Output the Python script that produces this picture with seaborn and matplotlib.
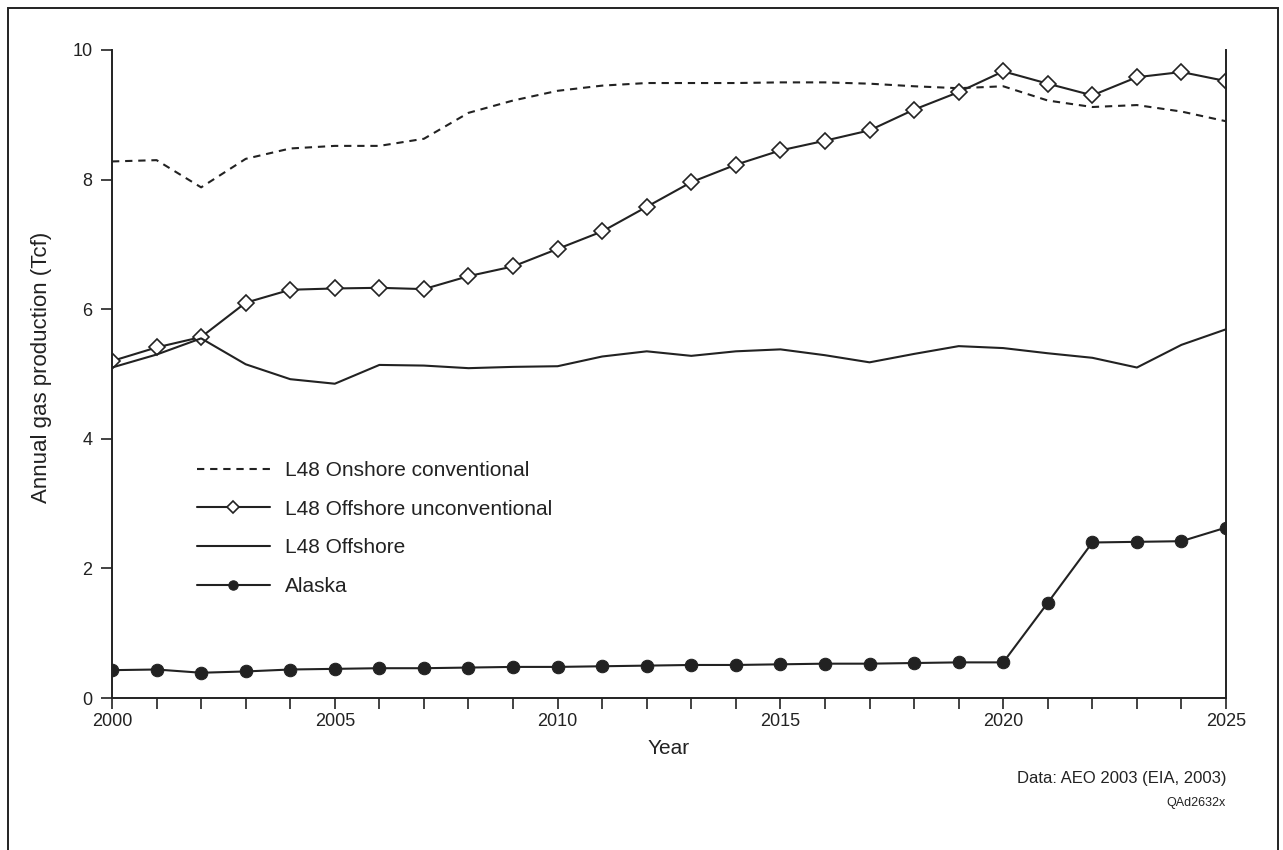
import numpy as np
import pandas as pd
import seaborn as sns
import matplotlib.pyplot as plt
from matplotlib.patches import Rectangle

# values (Tcf)
years = list(range(2000, 2026))
onshore_conv = [8.28, 8.30, 7.88, 8.32, 8.48, 8.52, 8.52, 8.63, 9.03, 9.22,
                9.37, 9.45, 9.49, 9.49, 9.49, 9.50, 9.50, 9.48, 9.44, 9.41,
                9.44, 9.22, 9.12, 9.15, 9.05, 8.90]
offshore_unconv = [5.20, 5.41, 5.57, 6.10, 6.30, 6.32, 6.33, 6.31, 6.51, 6.66,
                   6.93, 7.20, 7.58, 7.96, 8.23, 8.45, 8.60, 8.76, 9.08, 9.35,
                   9.67, 9.48, 9.30, 9.58, 9.66, 9.52]
offshore = [5.10, 5.30, 5.55, 5.15, 4.92, 4.85, 5.14, 5.13, 5.09, 5.11,
            5.12, 5.27, 5.35, 5.28, 5.35, 5.38, 5.29, 5.18, 5.31, 5.43,
            5.40, 5.32, 5.25, 5.10, 5.45, 5.69]
alaska = [0.43, 0.44, 0.39, 0.41, 0.44, 0.45, 0.46, 0.46, 0.47, 0.48,
          0.48, 0.49, 0.50, 0.51, 0.51, 0.52, 0.53, 0.53, 0.54, 0.55,
          0.55, 1.47, 2.40, 2.41, 2.42, 2.63]

ink = '#222222'
sns.set_style("ticks")
plt.rcParams['font.family'] = ['Liberation Sans', 'DejaVu Sans']

fig = plt.figure(figsize=(12.83, 8.5), dpi=100)
ax = fig.add_axes([0.0873, 0.1788, 0.8683, 0.7624])

sns.lineplot(x=years, y=onshore_conv, ax=ax, color=ink, lw=1.5,
             label='L48 Onshore conventional')
ax.lines[-1].set_dashes([3.5, 2.8])
sns.lineplot(x=years, y=offshore_unconv, ax=ax, color=ink, lw=1.5,
             marker='D', markersize=8, markerfacecolor='white',
             markeredgecolor=ink, markeredgewidth=1.2,
             label='L48 Offshore unconventional')
sns.lineplot(x=years, y=offshore, ax=ax, color=ink, lw=1.5,
             label='L48 Offshore')
sns.lineplot(x=years, y=alaska, ax=ax, color=ink, lw=1.5,
             marker='o', markersize=9, markeredgecolor=ink,
             markerfacecolor=ink, label='Alaska')

ax.set_xlim(2000, 2025)
ax.set_ylim(0, 10)
ax.set_xticks(years)
ax.set_xticklabels([str(y) if y % 5 == 0 else '' for y in years])
ax.set_yticks([0, 2, 4, 6, 8, 10])
ax.tick_params(axis='both', labelsize=13, length=8, width=1.2,
               color=ink, labelcolor=ink)
ax.tick_params(axis='x', pad=3)
ax.tick_params(axis='y', pad=6)
ax.set_xlabel('Year', fontsize=15, color=ink, labelpad=6)
ax.set_ylabel('Annual gas production (Tcf)', fontsize=16, color=ink)
ax.yaxis.set_label_coords(-0.054, 0.51)
ax.spines['top'].set_visible(False)
for s in ['left', 'bottom', 'right']:
    ax.spines[s].set_linewidth(1.4)
    ax.spines[s].set_color(ink)

leg = ax.legend(loc='upper left', bbox_to_anchor=(0.0763, 0.366),
                frameon=False, fontsize=15, handlelength=3.5,
                handletextpad=0.7, labelspacing=0.95, borderpad=0,
                borderaxespad=0, markerscale=0.75, labelcolor=ink)

fig.text(0.9556, 1 - 778 / 850, 'Data: AEO 2003 (EIA, 2003)', ha='right',
         va='center', fontsize=12, color=ink)
fig.text(0.9556, 1 - 803 / 850, 'QAd2632x', ha='right', va='center',
         fontsize=9, color=ink)

# outer frame
fig.patches.append(Rectangle((8 / 1283, -0.05), 1270 / 1283, 1.05 - 8 / 850,
                             transform=fig.transFigure, fill=False,
                             edgecolor=ink, lw=1.4))

plt.savefig('out.png', dpi=100)
plt.close()
